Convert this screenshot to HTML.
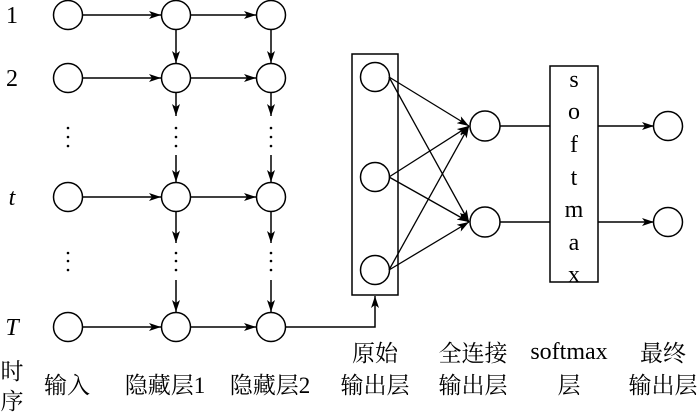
<!DOCTYPE html>
<html><head><meta charset="utf-8"><style>
html,body{margin:0;padding:0;background:#fff;}
svg{display:block;}
text{font-family:"Liberation Serif","Noto Serif CJK SC",serif;fill:#000;}
</style></head><body>
<svg width="700" height="413" viewBox="0 0 700 413" xmlns="http://www.w3.org/2000/svg">
<defs>
<marker id="a" viewBox="0 0 12 8" refX="12" refY="4" markerWidth="12" markerHeight="8" markerUnits="userSpaceOnUse" orient="auto">
<path d="M0,0 L12,4 L0,8 L3,4 z" fill="#000"/>
</marker>
</defs>
<g stroke="#000" stroke-width="1.5" fill="none">
<g fill="#fff">
<circle cx="68" cy="15" r="14.5"/><circle cx="176" cy="15" r="14.5"/><circle cx="271" cy="15" r="14.5"/>
<circle cx="68" cy="78" r="14.5"/><circle cx="176" cy="78" r="14.5"/><circle cx="271" cy="78" r="14.5"/>
<circle cx="68" cy="197" r="14.5"/><circle cx="176" cy="197" r="14.5"/><circle cx="271" cy="197" r="14.5"/>
<circle cx="68" cy="327" r="14.5"/><circle cx="176" cy="327" r="14.5"/><circle cx="271" cy="327" r="14.5"/>
</g>
<g marker-end="url(#a)">
<line x1="83" y1="15" x2="161" y2="15"/><line x1="191" y1="15" x2="256" y2="15"/>
<line x1="83" y1="78" x2="161" y2="78"/><line x1="191" y1="78" x2="256" y2="78"/>
<line x1="83" y1="197" x2="161" y2="197"/><line x1="191" y1="197" x2="256" y2="197"/>
<line x1="83" y1="327" x2="161" y2="327"/><line x1="191" y1="327" x2="256" y2="327"/>
<line x1="176" y1="30" x2="176" y2="63"/><line x1="271" y1="30" x2="271" y2="63"/>
<line x1="176" y1="93" x2="176" y2="116"/><line x1="271" y1="93" x2="271" y2="116"/>
<line x1="176" y1="155" x2="176" y2="182"/><line x1="271" y1="155" x2="271" y2="182"/>
<line x1="176" y1="212" x2="176" y2="243"/><line x1="271" y1="212" x2="271" y2="243"/>
<line x1="176" y1="280" x2="176" y2="312"/><line x1="271" y1="280" x2="271" y2="312"/>
<polyline points="286,327 375,327 375,296"/>
</g>
<rect x="352" y="54" width="46" height="241"/>
<circle cx="375" cy="77" r="14.5"/><circle cx="375" cy="177" r="14.5"/><circle cx="375" cy="270" r="14.5"/>
<g marker-end="url(#a)" stroke-width="1.3">
<line x1="389" y1="77" x2="469" y2="126"/><line x1="389" y1="77" x2="469" y2="222"/>
<line x1="389" y1="177" x2="469" y2="126"/><line x1="389" y1="177" x2="469" y2="222"/>
<line x1="389" y1="270" x2="469" y2="126"/><line x1="389" y1="270" x2="469" y2="222"/>
</g>
<circle cx="485" cy="126" r="15"/><circle cx="485" cy="222" r="15"/>
<line x1="500" y1="126" x2="550" y2="126"/><line x1="500" y1="222" x2="550" y2="222"/>
<rect x="550" y="66" width="48" height="216"/>
<g marker-end="url(#a)">
<line x1="598" y1="126" x2="654" y2="126"/><line x1="598" y1="222" x2="654" y2="222"/>
</g>
<circle cx="668" cy="126" r="14.5"/><circle cx="668" cy="222" r="14.5"/>
</g>
<g fill="#000">
<circle cx="68" cy="128" r="1.3"/><circle cx="68" cy="137" r="1.3"/><circle cx="68" cy="146" r="1.3"/>
<circle cx="176" cy="128" r="1.3"/><circle cx="176" cy="137" r="1.3"/><circle cx="176" cy="146" r="1.3"/>
<circle cx="271" cy="128" r="1.3"/><circle cx="271" cy="137" r="1.3"/><circle cx="271" cy="146" r="1.3"/>
<circle cx="68" cy="253" r="1.3"/><circle cx="68" cy="261" r="1.3"/><circle cx="68" cy="270" r="1.3"/>
<circle cx="176" cy="253" r="1.3"/><circle cx="176" cy="261" r="1.3"/><circle cx="176" cy="270" r="1.3"/>
<circle cx="271" cy="253" r="1.3"/><circle cx="271" cy="261" r="1.3"/><circle cx="271" cy="270" r="1.3"/>
</g>
<g font-size="24" text-anchor="middle">
<text x="12" y="23">1</text><text x="12" y="86">2</text>
<text x="12" y="205" font-style="italic">t</text><text x="12" y="335" font-style="italic">T</text>
</g>
<g font-size="24" text-anchor="middle">
<text x="574" y="87">s</text><text x="574" y="119">o</text><text x="574" y="152">f</text>
<text x="574" y="185">t</text><text x="574" y="217">m</text><text x="574" y="250">a</text><text x="574" y="282">x</text>
</g>
<g font-size="23" text-anchor="middle">
<text x="12" y="379">时</text><text x="12" y="409">序</text>
<text x="375" y="361">原始</text><text x="473" y="361">全连接</text><text x="569" y="359" font-size="24">softmax</text><text x="663" y="361">最终</text>
<text x="67" y="393">输入</text><text x="165" y="393">隐藏层1</text><text x="270" y="393">隐藏层2</text>
<text x="375" y="393">输出层</text><text x="473" y="393">输出层</text><text x="569" y="393">层</text><text x="663" y="393">输出层</text>
</g>
</svg>
</body></html>
